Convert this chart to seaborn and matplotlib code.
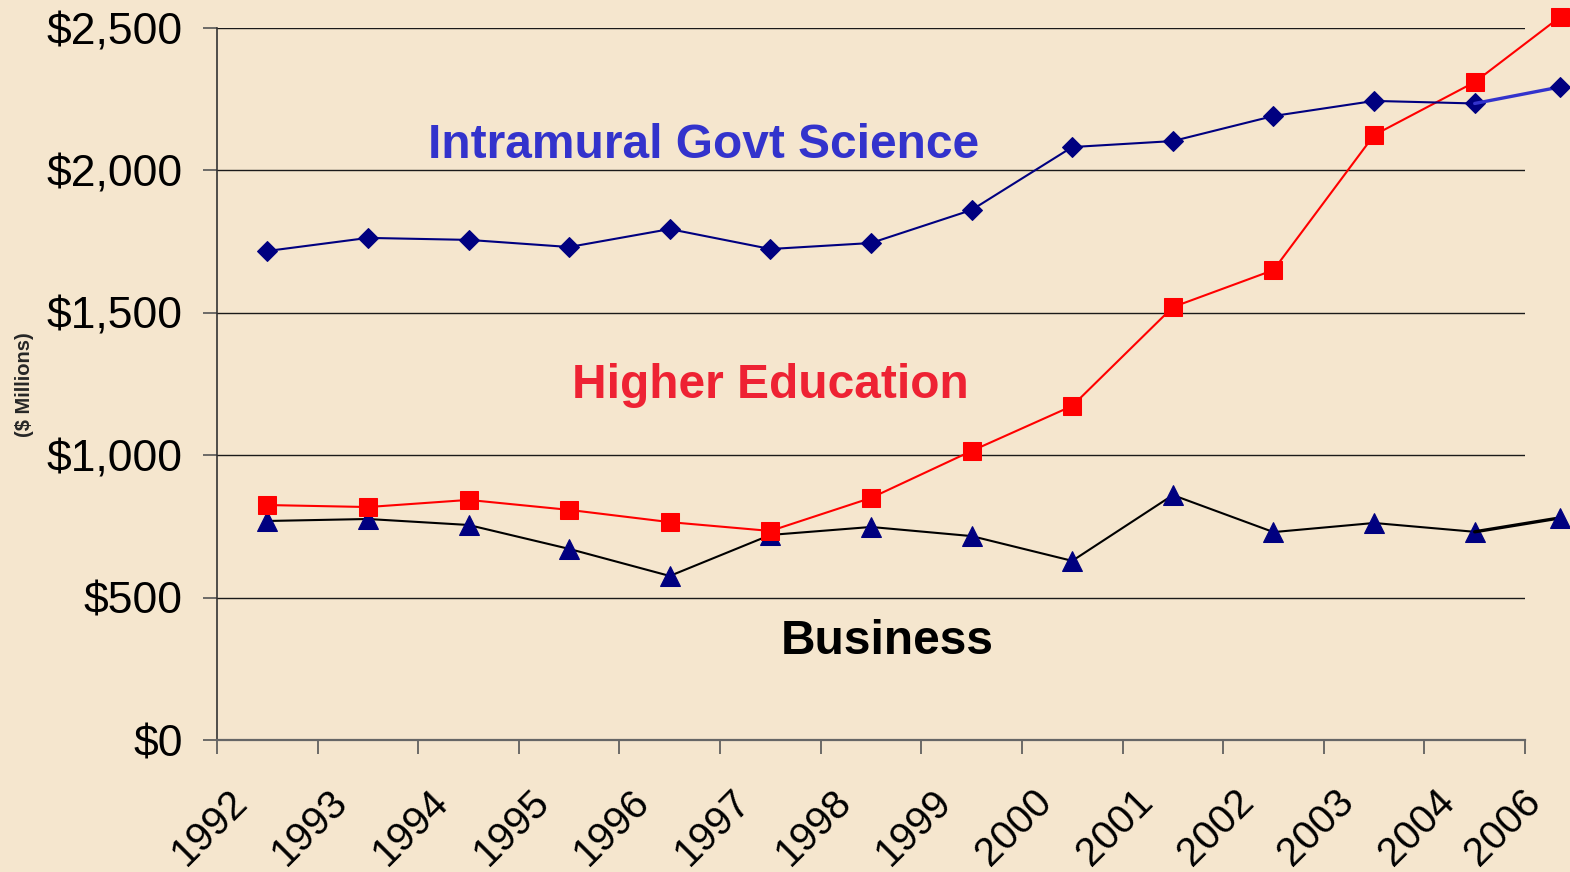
import numpy as np
import pandas as pd
import matplotlib
matplotlib.use("Agg")
import matplotlib.pyplot as plt
import matplotlib.transforms as mtransforms
import seaborn as sns

years = ["1992", "1993", "1994", "1995", "1996", "1997", "1998",
         "1999", "2000", "2001", "2002", "2003", "2004", "2006"]
intramural = [1717, 1763, 1756, 1731, 1794, 1724, 1745,
              1861, 2082, 2103, 2191, 2244, 2235, 2293]
higher_ed = [825, 818, 843, 808, 765, 734, 850,
             1015, 1173, 1520, 1650, 2124, 2310, 2539]
business = [769, 776, 755, 671, 576, 720, 748,
            716, 629, 860, 730, 762, 731, 780]
y_ticks = [0, 500, 1000, 1500, 2000, 2500]
y_tick_labels = ["$0", "$500", "$1,000", "$1,500", "$2,000", "$2,500"]

BG = "#F5E6CE"
sns.set_style("white", {"axes.facecolor": BG, "figure.facecolor": BG})
plt.rcParams["font.family"] = ["Liberation Sans", "DejaVu Sans"]

# category positions; 2006 follows 2004 after a shortened gap
xpos = np.r_[np.arange(len(years) - 1), len(years) - 2 + 0.85]
df = pd.DataFrame({"x": xpos, "year": years, "intramural": intramural,
                   "higher": higher_ed, "business": business})

fig = plt.figure(figsize=(15.7, 8.72), dpi=100)
ax = fig.add_axes([217 / 1570, 1 - 740 / 872, (1525 - 217) / 1570, (740 - 28) / 872])
ax.set_facecolor(BG)

# gridlines
for v in y_ticks[1:]:
    ax.axhline(v, color="#1a1a1a", lw=1.0, zorder=1)

main = df.iloc[:-1]
tail = df.iloc[-2:]

# Business
sns.lineplot(data=main, x="x", y="business", ax=ax, color="black", lw=1.5,
             marker="^", markersize=15, markerfacecolor="#000080",
             markeredgecolor="#000080", clip_on=False, zorder=3)
sns.lineplot(data=tail, x="x", y="business", ax=ax, color="black", lw=2.4,
             marker="^", markersize=15, markerfacecolor="#000080",
             markeredgecolor="#000080", markevery=[1], clip_on=False, zorder=3)
# Higher education
sns.lineplot(data=df, x="x", y="higher", ax=ax, color="#FF0000", lw=1.5,
             marker="s", markersize=13, markerfacecolor="#FF0000",
             markeredgecolor="#FF0000", clip_on=False, zorder=4)
# Intramural
sns.lineplot(data=main, x="x", y="intramural", ax=ax, color="#000080", lw=1.5,
             marker="D", markersize=10, markerfacecolor="#000080",
             markeredgecolor="#000080", clip_on=False, zorder=5)
sns.lineplot(data=tail, x="x", y="intramural", ax=ax, color="#3333CC", lw=2.4,
             marker="D", markersize=10, markerfacecolor="#000080",
             markeredgecolor="#000080", markevery=[1], clip_on=False, zorder=5)

ax.set_xlabel("")
ax.set_ylabel("")

# y axis
ax.set_yticks(y_ticks)
ax.set_yticklabels(y_tick_labels, fontsize=32, color="black")
ax.tick_params(axis="y", direction="out", length=10, width=1.2, color="#555555",
               pad=14.5, left=True)

# x axis: ticks at category boundaries
ax.set_xticks(np.arange(-0.5, len(years) - 1.0, 1.0))
ax.set_xticklabels([])
ax.tick_params(axis="x", which="major", direction="out", length=10, width=1.2,
               color="#555555", bottom=True)

ax.set_xlim(-0.5, len(years) - 1.5)
ax.set_ylim(0, 2500)

# category labels (rotated), anchored just left/below each category position
lab_tr = (mtransforms.blended_transform_factory(ax.transData, ax.transAxes)
          + mtransforms.ScaledTranslation(-26 / 100, -55.6 / 100, fig.dpi_scale_trans))
for xv, yr in zip(xpos, years):
    ax.text(xv, 0, yr, transform=lab_tr, fontsize=29, rotation=45, ha="right",
            va="center", rotation_mode="anchor", color="black", clip_on=False)

for side in ["top", "right"]:
    ax.spines[side].set_visible(False)
ax.spines["left"].set_color("#333333")
ax.spines["left"].set_linewidth(1.2)
ax.spines["bottom"].set_color("#666666")
ax.spines["bottom"].set_linewidth(1.6)

# series labels
ax.text(4.34, 2086, "Intramural Govt Science", color="#3333CC", fontsize=34.5,
        fontweight="bold", ha="center", va="center")
ax.text(5.0, 1243, "Higher Education", color="#EE2233", fontsize=34.5,
        fontweight="bold", ha="center", va="center")
ax.text(6.16, 345, "Business", color="black", fontsize=34.5,
        fontweight="bold", ha="center", va="center")

fig.text(25 / 1570, 1 - 385 / 872, "($ Millions)", rotation=90, fontsize=14.5,
         fontweight="bold", ha="center", va="center")

fig.savefig("out.png", dpi=100, facecolor=BG)
